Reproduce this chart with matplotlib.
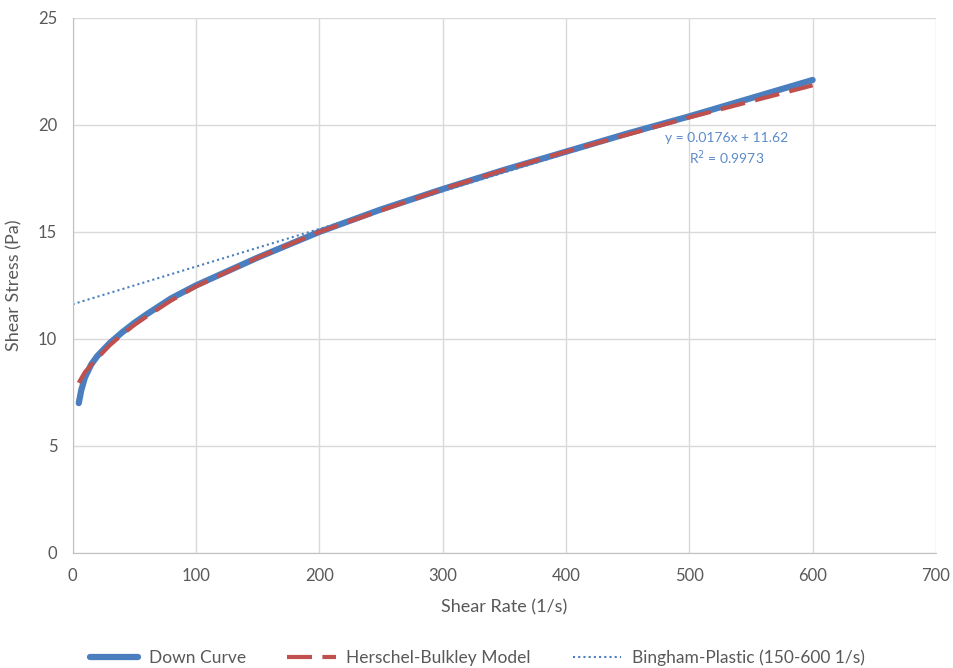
import matplotlib
matplotlib.use("Agg")
import matplotlib.pyplot as plt

plt.rcParams['font.family'] = ['Lato', 'DejaVu Sans']

# Down curve
down_x = [5, 7, 10, 15, 20, 30, 40, 50, 60, 80, 100, 125, 150, 175, 200,
          250, 300, 350, 400, 450, 500, 550, 600]
down_y = [7.0, 7.6, 8.2, 8.8, 9.2, 9.8, 10.3, 10.75, 11.15, 11.9, 12.5, 13.15,
          13.8, 14.4, 15.0, 16.05, 17.0, 17.9, 18.75, 19.6, 20.4, 21.25, 22.1]

# Herschel-Bulkley model
hb_x = [5, 10, 20, 30, 40, 50, 60, 80, 100, 150, 200, 250, 300, 350, 400,
        450, 500, 550, 600]
hb_y = [7.95, 8.45, 9.1, 9.7, 10.2, 10.65, 11.05, 11.8, 12.45, 13.8, 15.0,
        16.0, 17.0, 17.9, 18.75, 19.55, 20.35, 21.1, 21.85]

# Bingham-Plastic trendline end points
bingham_x = [0, 600]
bingham_y = [11.62, 22.18]

x_ticks = [0, 100, 200, 300, 400, 500, 600, 700]
y_ticks = [0, 5, 10, 15, 20, 25]

blue = '#4A7EBF'
red = '#C0504D'
gray = '#595959'

fig = plt.figure(figsize=(9.54, 6.68), dpi=100)
ax = fig.add_axes([0.0761, 0.1722, 0.905, 0.801])

ax.plot(down_x, down_y, color=blue, lw=4.5, solid_capstyle='round', label='Down Curve', zorder=3)
ax.plot(hb_x, hb_y, color=red, lw=3, ls=(0, (6, 2.5)), label='Herschel-Bulkley Model', zorder=4)
ax.plot(bingham_x, bingham_y, color=blue, lw=1.5, ls=(0, (1, 1.5)),
        label='Bingham-Plastic (150-600 1/s)', zorder=2)

ax.text(530, 18.85, 'y = 0.0176x + 11.62\nR$^2$ = 0.9973', color='#5B8BC8',
        fontsize=10, ha='center', va='center', linespacing=1.3)

ax.set_xlim(0, 700)
ax.set_ylim(0, 25)
ax.set_xticks(x_ticks)
ax.set_yticks(y_ticks)
ax.grid(True, color='#D9D9D9', lw=1)
ax.set_axisbelow(True)
for s in ['top', 'right']:
    ax.spines[s].set_visible(False)
for s in ['left', 'bottom']:
    ax.spines[s].set_color('#BFBFBF')
ax.tick_params(length=0, labelsize=12, colors=gray, pad=11)
ax.set_xlabel('Shear Rate (1/s)', fontsize=13, color=gray, labelpad=11)
ax.set_ylabel('Shear Stress (Pa)', fontsize=13, color=gray, labelpad=11)

fig.legend(loc='lower center', bbox_to_anchor=(0.5, -0.02), ncol=3, frameon=False,
           fontsize=12.5, labelcolor=gray, handlelength=2.8, handletextpad=0.6,
           columnspacing=2.4)

fig.savefig('out.png', dpi=100)
